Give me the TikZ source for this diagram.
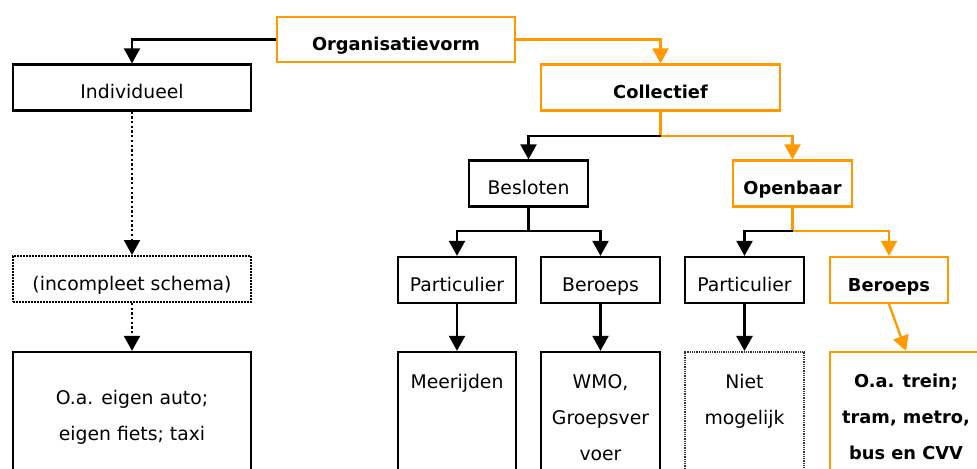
\documentclass[tikz,border=0pt]{standalone}
\usepackage{fontspec}
\setmainfont{DejaVu Sans}
\usetikzlibrary{arrows.meta}
\definecolor{orgc}{RGB}{255,153,0}
\begin{document}
\begin{tikzpicture}[x=1bp,y=-1bp,
  box/.style={draw, line width=2.3bp, minimum height=46bp, inner sep=2bp,
    text height=23bp, text depth=0bp, font=\fontsize{18.8bp}{22bp}\selectfont},
  obox/.style={box, draw=orgc, font=\bfseries\fontsize{17.8bp}{22bp}\selectfont},
  tall/.style={draw, line width=2.3bp, minimum height=148bp, inner sep=0pt},
  txt/.style={align=center, inner sep=0pt, anchor=north, font=\fontsize{18.8bp}{36bp}\selectfont},
  btxt/.style={txt, font=\bfseries\fontsize{17.8bp}{36bp}\selectfont},
  arr/.style={line width=2.3bp, -{Triangle[width=16bp,length=15bp]}},
  oarr/.style={arr, draw=orgc, -{Triangle[width=16bp,length=15bp,fill=orgc]}},
  dotarr/.style={arr, dash pattern=on 2.3bp off 2.4bp},
  dotbox/.style={dash pattern=on 1.6bp off 1.4bp, line width=1.8bp},
  finedot/.style={draw=black!80, dash pattern=on 1bp off 0.8bp, line width=2bp}
]
\useasboundingbox (0,0) rectangle (977,469);
\clip (0,0) rectangle (977,469);

% top level
\node[obox, minimum width=238bp, minimum height=45bp] (orgv) at (396,39.5) {Organisatievorm};
\node[box, minimum width=238bp] (ind) at (132,87.5) {Individueel};
\node[obox, minimum width=239bp] (col) at (660.5,87.5) {Collectief};

% second level
\node[box, minimum width=119bp] (bes) at (528.5,183.5) {Besloten};
\node[obox, minimum width=119bp] (opb) at (792.5,183.5) {Openbaar};

% third level
\node[box, minimum width=118bp] (par1) at (457,280) {Particulier};
\node[box, minimum width=119bp] (ber1) at (600.5,280) {Beroeps};
\node[box, minimum width=119bp] (par2) at (744.5,280) {Particulier};
\node[obox, minimum width=118bp] (ber2) at (889,280) {Beroeps};
\node[box, dotbox, minimum width=238bp] (inc) at (132,279) {(incompleet schema)};

% bottom boxes
\node[tall, minimum width=238bp] (auto) at (132,426) {};
\node[tall, minimum width=118bp] (mee) at (457,426) {};
\node[tall, minimum width=119bp] (wmo) at (600.5,426) {};
\node[tall, finedot, minimum width=119bp] (niet) at (744.5,426) {};
\node[tall, draw=orgc, minimum width=152bp] (oat) at (906,426) {};

\node[txt] (tauto) at (132,390) {O.a. eigen auto;\\eigen fiets; taxi};
\node[txt] (tmee) at (457,374) {Meerijden};
\node[txt] (twmo) at (600.5,374) {WMO,\\Groepsver\\voer};
\node[txt] (tniet) at (744.5,374) {Niet\\mogelijk};
\node[btxt] (toat) at (906,374) {O.a. trein;\\tram, metro,\\bus en CVV};

% connectors
\coordinate (cj) at (660.5,136);
\coordinate (bj) at (528.5,231);
\coordinate (oj) at (792.5,231);

\draw[arr] (orgv.west) -| (ind.north);
\draw[oarr] (orgv.east) -| (col.north);

\draw[line width=2.3bp, draw=orgc] (col.south) -- (cj);
\draw[arr] (cj) -| (bes.north);
\draw[oarr] (cj) -| (opb.north);

\draw[line width=2.3bp] (bes.south) -- (bj);
\draw[arr] (bj) -| (par1.north);
\draw[arr] (bj) -| (ber1.north);

\draw[line width=2.3bp, draw=orgc] (opb.south) -- (oj);
\draw[arr] (oj) -| (par2.north);
\draw[oarr] (oj) -| (ber2.north);

\draw[arr] (par1.south) -- (mee.north);
\draw[arr] (ber1.south) -- (wmo.north);
\draw[arr] (par2.south) -- (niet.north);
\draw[oarr] (ber2.south) -- (oat.north);

\draw[dotarr] (ind.south) -- (inc.north);
\draw[dotarr] (inc.south) -- (auto.north);
\end{tikzpicture}
\end{document}
